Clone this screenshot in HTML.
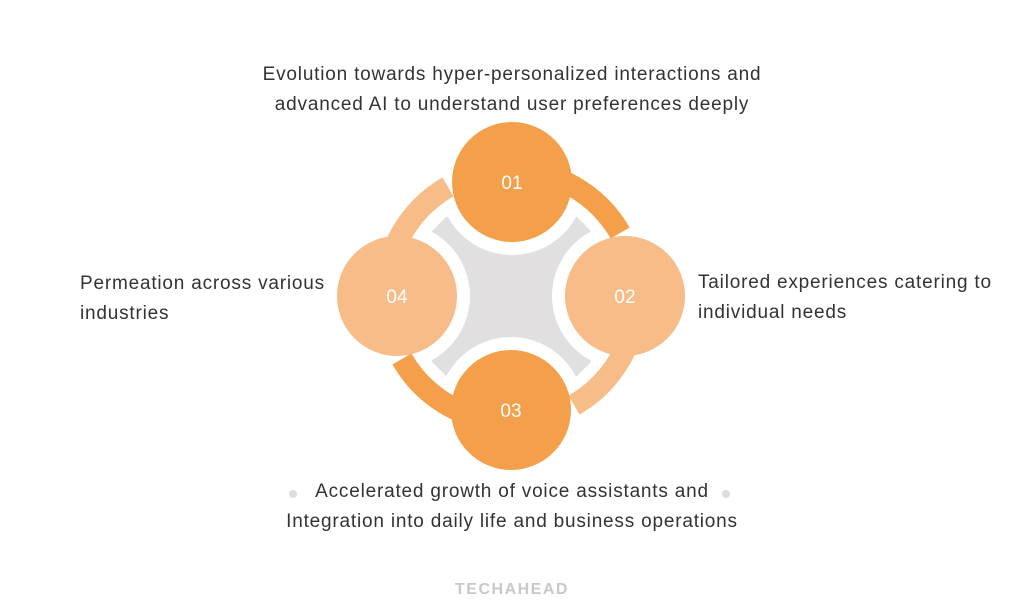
<!DOCTYPE html>
<html><head><meta charset="utf-8"><style>
html,body{margin:0;padding:0;background:#fff;}
body{width:1024px;height:609px;position:relative;overflow:hidden;font-family:"Liberation Sans",sans-serif;color:#333;}
.t{position:absolute;font-size:19px;line-height:30px;letter-spacing:0.8px;}
</style></head><body>
<svg width="1024" height="609" style="position:absolute;left:0;top:0">
<polygon points="446,217 577,217 591,231 591,362 577,376 446,376 432,362 432,231" fill="#E1DFE0"/>
<g fill="#fff">
<circle cx="512" cy="182" r="73"/><circle cx="625" cy="296" r="73"/>
<circle cx="511" cy="410" r="73"/><circle cx="397" cy="296" r="73"/>
</g>
<g fill="none" stroke-width="22">
<path d="M511 170 A126 126 0 0 1 620.1 233" stroke="#F4A04B"/>
<path d="M637 296 A126 126 0 0 1 574 405.1" stroke="#F7BC87"/>
<path d="M511 422 A126 126 0 0 1 401.9 359" stroke="#F4A04B"/>
<path d="M385 296 A126 126 0 0 1 448 186.9" stroke="#F7BC87"/>
</g>
<circle cx="512" cy="182" r="60" fill="#F4A04B"/>
<circle cx="625" cy="296" r="60" fill="#F7BC87"/>
<circle cx="511" cy="410" r="60" fill="#F4A04B"/>
<circle cx="397" cy="296" r="60" fill="#F7BC87"/>
<g fill="#fff" font-family="Liberation Sans, sans-serif" font-size="19" text-anchor="middle">
<text x="512" y="189">01</text><text x="625" y="303">02</text>
<text x="511" y="417">03</text><text x="397" y="303">04</text>
</g>
<circle cx="293" cy="494" r="4" fill="#ddd"/>
<circle cx="726" cy="494" r="4" fill="#ddd"/>
<text x="512" y="594" text-anchor="middle" font-family="Liberation Sans, sans-serif" font-weight="bold" font-size="16" letter-spacing="1.5" fill="#c8c8c8">TECHAHEAD</text>
</svg>
<div class="t" style="left:150px;width:724px;top:60px;text-align:center">Evolution towards hyper-personalized interactions and<br>advanced AI to understand user preferences deeply</div>
<div class="t" style="left:80px;top:269px">Permeation across various<br>industries</div>
<div class="t" style="left:698px;top:268px">Tailored experiences catering to<br>individual needs</div>
<div class="t" style="left:150px;width:724px;top:477px;text-align:center">Accelerated growth of voice assistants and<br>Integration into daily life and business operations</div>
</body></html>
